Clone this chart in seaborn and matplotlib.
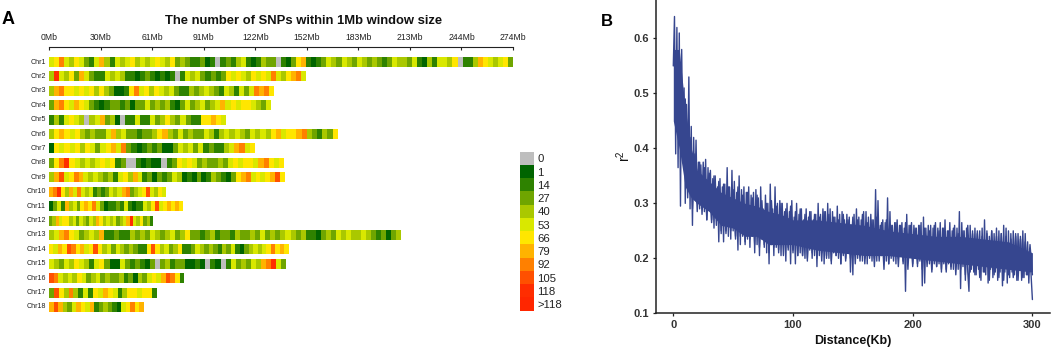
import numpy as np
import pandas as pd
import matplotlib
matplotlib.use("Agg")
import matplotlib.pyplot as plt
from matplotlib.colors import ListedColormap
import seaborn as sns

sns.set_theme(style="white")
plt.rcParams['font.family'] = ['Liberation Sans', 'DejaVu Sans']
plt.rcParams['mathtext.fontset'] = 'custom'
plt.rcParams['mathtext.rm'] = 'Liberation Sans'
plt.rcParams['mathtext.it'] = 'Liberation Sans'

W, H = 1052, 348

chr_names = ["Chr%d" % i for i in range(1, 19)]
chr_lengths = [274, 152, 133, 131, 104.5, 170.5, 121.6, 138.8, 139.4, 69, 79, 61.6, 208, 141.5, 140, 80, 63.6, 56]

# density class per ~3 Mb bin (index into legend_labels)
chr1 = [5,6,8,5,4,6,5,3,2,5,7,4,2,5,4,5,6,4,5,4,5,6,5,4,6,3,4,3,2,2,3,1,2,0,2,3,2,4,5,2,1,2,4,3,3,0,2,1,3,6,7,2,1,2,3,5,4,3,5,4,3,5,4,3,4,3,2,3,5,4,4,3,5,2,1,4,2,5,5,4,6,0,2,2,4,7,6,5,4,5,6,3]
chr2 = [4,10,5,4,6,3,7,5,3,2,2,5,4,5,4,2,2,1,2,3,2,1,2,1,2,0,2,5,4,5,3,2,3,2,3,6,5,6,5,4,6,5,6,5,8,5,4,6,7,8,5]
chr3 = [4,7,8,6,6,5,6,5,6,4,6,4,3,1,1,2,6,8,5,6,4,6,5,4,5,3,2,2,4,3,4,5,4,3,2,5,4,2,5,3,5,8,7,8,6]
chr4 = [3,7,8,6,5,7,6,5,3,2,1,2,3,3,2,3,1,3,3,5,3,4,3,4,2,1,3,5,3,4,5,3,4,5,7,5,6,5,6,6,5,4,3,5]
chr5 = [2,4,2,5,6,5,4,0,4,5,7,3,4,1,0,2,2,5,2,2,5,3,4,6,4,3,5,3,2,2,6,6,7,6,5]
chr6 = [4,6,7,6,5,6,4,3,4,3,3,5,7,4,5,3,3,2,3,3,4,6,7,4,3,5,3,4,3,3,5,4,2,4,5,4,5,4,3,5,4,5,4,6,7,5,6,6,7,8,4,3,2,4,3,6]
chr7 = [1,6,5,6,5,6,4,6,5,3,5,6,7,5,8,3,2,1,2,3,2,3,1,1,3,5,4,5,3,5,2,3,2,2,4,5,7,8,5,6]
chr8 = [3,6,8,10,6,5,4,5,4,5,6,5,6,2,3,0,0,2,1,2,1,1,0,2,3,6,5,6,5,3,4,3,3,4,3,5,6,5,6,6,5,7,8,6,5,6]
chr9 = [4,7,9,5,6,8,7,5,4,5,4,3,4,2,5,6,4,7,5,2,3,1,3,2,3,5,4,1,2,1,3,1,2,4,3,2,1,3,6,7,8,5,6,5,6,7,9,6]
chr10 = [7,8,10,6,4,7,5,8,5,4,5,2,3,2,3,5,4,5,7,8,3,4,5,6,9,5,4,6,5]
chr11 = [1,3,5,2,7,4,5,3,6,7,6,8,5,3,1,2,2,3,2,5,2,1,2,2,5,4,6,9,5,6,7,6,7,6]
chr12 = [3,4,7,5,6,6,4,5,3,5,4,3,5,4,7,6,4,5,4,5,3,4,5,7,10,5,4,6,3,4,2]
chr13 = [4,5,7,8,6,5,3,4,5,4,7,2,2,3,2,2,4,3,4,3,5,4,3,4,5,3,4,6,3,3,2,3,4,2,3,3,2,4,3,3,4,3,5,3,4,3,4,5,4,3,4,2,2,1,3,4,3,5,4,5,4,4,5,4,3,2,3,1,3,4]
chr14 = [6,5,7,6,9,8,6,7,5,6,9,6,4,5,3,5,4,3,4,3,2,2,6,9,6,4,5,3,4,6,2,2,3,5,4,3,4,3,2,4,3,5,2,1,3,4,5,4,5,6,8,6,7,6]
chr15 = [5,4,3,5,4,6,5,4,2,5,6,3,1,1,5,3,2,3,2,1,3,0,3,4,2,3,3,1,1,2,1,0,2,1,0,2,5,3,4,3,5,4,7,8,10,5,3]
chr16 = [9,8,5,4,5,4,6,5,3,4,5,3,4,3,3,4,2,3,1,4,3,5,6,5,7,9,8,6,2]
chr17 = [3,9,6,4,8,4,2,5,2,6,5,7,6,5,2,4,6,6,5,6,6,2]
chr18 = [7,9,7,4,3,5,7,6,5,7,2,3,4,3,2,1,5,6,8,6,7]
chr_values = [chr1, chr2, chr3, chr4, chr5, chr6, chr7, chr8, chr9, chr10,
              chr11, chr12, chr13, chr14, chr15, chr16, chr17, chr18]

legend_labels = ["0", "1", "14", "27", "40", "53", "66", "79", "92", "105", "118", ">118"]
legend_colors = ["#BEBEBE", "#006400", "#2E8200", "#6FA500", "#AAC800", "#D9E800",
                 "#FFE600", "#FFB300", "#FF8000", "#FF5000", "#FF2D00", "#FF2600"]
ruler_ticks = [0, 30.44, 60.89, 91.33, 121.78, 152.22, 182.67, 213.11, 243.56, 274]
ruler_labels = ["0Mb", "30Mb", "61Mb", "91Mb", "122Mb", "152Mb", "183Mb", "213Mb", "244Mb", "274Mb"]

# LD decay: r2 per 1 kb distance
r2_values = [
 .55,.64,.39,.62,.365,.61,.295,.58,.40,.51,
 .30,.48,.36,.53,.29,.44,.26,.42,.31,.415,
 .30,.375,.29,.37,.30,.375,.285,.38,.27,.365,
 .29,.36,.27,.345,.255,.35,.28,.33,.23,.345,
 .245,.33,.23,.335,.25,.365,.24,.33,.235,.36,
 .25,.34,.24,.32,.215,.35,.225,.325,.24,.33,
 .225,.32,.235,.33,.22,.315,.24,.32,.21,.325,
 .225,.31,.205,.33,.235,.29,.22,.315,.21,.30,
 .19,.335,.225,.29,.205,.33,.22,.30,.21,.305,
 .205,.30,.225,.285,.195,.30,.22,.285,.19,.305,
 .215,.275,.19,.30,.205,.28,.21,.29,.205,.27,
 .20,.29,.195,.275,.215,.285,.20,.27,.205,.28,
 .185,.30,.205,.28,.21,.29,.19,.285,.205,.30,
 .20,.29,.19,.285,.21,.275,.205,.295,.20,.28,
 .19,.285,.205,.27,.20,.28,.215,.275,.175,.26,
 .17,.28,.205,.29,.20,.275,.205,.27,.195,.285,
 .20,.285,.19,.275,.205,.28,.195,.27,.20,.325,
 .195,.305,.21,.26,.205,.27,.20,.265,.195,.31,
 .19,.285,.20,.26,.205,.265,.19,.27,.20,.26,
 .21,.265,.195,.255,.14,.28,.195,.26,.205,.265,
 .19,.26,.20,.255,.185,.26,.195,.265,.15,.275,
 .155,.255,.195,.26,.19,.26,.18,.255,.19,.265,
 .185,.255,.19,.265,.175,.255,.19,.27,.18,.25,
 .19,.265,.185,.25,.18,.26,.19,.255,.18,.285,
 .145,.265,.185,.25,.16,.255,.175,.14,.26,.18,
 .25,.175,.255,.17,.245,.18,.25,.16,.255,.175,
 .27,.17,.25,.155,.24,.18,.25,.165,.245,.175,
 .255,.16,.25,.175,.245,.15,.26,.175,.255,.155,
 .25,.165,.245,.175,.25,.17,.24,.16,.245,.18,
 .235,.16,.25,.165,.245,.17,.23,.155,.21,.165,
 .125]
r2_distance = np.arange(len(r2_values))

# further readings from the dense band, every 2 kb from 10 kb on
r2_dense = [
 .49,.31,.42,.29,.39,.285,.375,.28,.365,.27,.355,.265,.35,.26,.34,.25,.335,.245,.33,.25,
 .325,.235,.33,.24,.315,.23,.32,.235,.31,.225,.315,.22,.305,.225,.30,.21,.305,.22,.295,.215,.30,.205,.29,.215,.295,
 .21,.285,.205,.29,.205,.28,.20,.285,.21,.28,.20,.275,.195,.285,.20,.28,.195,.275,.205,.27,.19,.28,.195,.27,.20,
 .275,.19,.27,.195,.28,.19,.265,.20,.27,.185,.275,.195,.265,.18,.27,.19,.26,.195,.265,.185,.26,.19,.265,.18,.26,
 .185,.255,.19,.26,.18,.255,.185,.25,.175,.26,.185,.25,.18,.255,.175,.25,.18,.255,.17,.245,.18,.25,.17,.26,.175,
 .245,.17,.25,.165,.24,.175,.245,.16,.25,.17,.24,.165,.245,.16,.24,.17,.235,.165,.245,.16,.24,.165,.23,.17,.225,.17]
r2_dense_distance = 10 + 2 * np.arange(len(r2_dense))

# solid core of the dense LD band, read at selected distances
core_kb = [0, 5, 10, 15, 20, 30, 40, 50, 60, 70, 80, 90, 100, 120, 140, 160, 180, 200, 220, 240, 260, 280, 300]
core_low = [.45, .40, .33, .31, .30, .285, .26, .255, .24, .24, .225, .225, .225, .215, .21, .205, .205, .20, .195, .19, .185, .18, .175]
core_high = [.58, .58, .47, .40, .36, .34, .32, .31, .30, .295, .285, .28, .27, .27, .265, .26, .25, .245, .24, .24, .235, .23, .21]


def px_axes(x0, y0, x1, y1, **kw):
    return fig.add_axes([x0 / W, 1 - y1 / H, (x1 - x0) / W, (y1 - y0) / H], **kw)


fig = plt.figure(figsize=(W / 100, H / 100), dpi=100, facecolor="white")

cmap = ListedColormap(legend_colors)
X0, X1 = 49.0, 513.0
px_per_mb = (X1 - X0) / 274.0
ROW0, ROW_STEP, ROW_H = 57.0, 14.41, 10.0

# ruler
ax_r = px_axes(X0, 47, X1, 48)
ax_r.set_xlim(0, 274)
ax_r.set_yticks([])
for s in ["left", "right", "bottom"]:
    ax_r.spines[s].set_visible(False)
ax_r.spines["top"].set_linewidth(0.8)
ax_r.spines["top"].set_color("#222222")
ax_r.patch.set_alpha(0)
ax_r.xaxis.tick_top()
ax_r.set_xticks(ruler_ticks)
ax_r.set_xticklabels(ruler_labels, fontsize=6.2, color="#222222")
ax_r.tick_params(axis="x", direction="in", length=2.5, width=0.8, color="#222222", pad=3.5)

# chromosome strips
for i, (name, length, vals) in enumerate(zip(chr_names, chr_lengths, chr_values)):
    y0 = ROW0 + i * ROW_STEP
    ax = px_axes(X0, y0, X0 + length * px_per_mb, y0 + ROW_H)
    sns.heatmap(np.array([vals]), ax=ax, cmap=cmap, vmin=-0.5, vmax=11.5, cbar=False,
                xticklabels=False, yticklabels=[name], rasterized=True)
    ax.tick_params(axis="y", length=0, pad=2.2, labelsize=5.1, labelcolor="#222222", labelrotation=0)

# legend strip
ax_l = px_axes(520, 151.7, 534.3, 310.7)
sns.heatmap(np.arange(12).reshape(-1, 1), ax=ax_l, cmap=cmap, vmin=-0.5, vmax=11.5, cbar=False,
            xticklabels=False, yticklabels=legend_labels)
ax_l.yaxis.tick_right()
ax_l.tick_params(axis="y", length=0, pad=2.2, labelsize=8.2, labelcolor="#222222", labelrotation=0)

fig.text(304 / W, 1 - 21 / H, "The number of SNPs within 1Mb window size", ha="center", va="center",
         fontsize=9.4, fontweight="bold", color="#111111")
fig.text(2 / W, 1 - 20 / H, "A", ha="left", va="center", fontsize=13, fontweight="bold", color="black")
fig.text(601 / W, 1 - 21 / H, "B", ha="left", va="center", fontsize=12, fontweight="bold", color="black")

# LD panel
BLUE = "#36468F"
ax_b = px_axes(655.7, 0, 1050, 313.3)
df = pd.DataFrame({"distance": r2_distance, "r2": r2_values})
df2 = pd.DataFrame({"distance": r2_dense_distance, "r2": r2_dense})
ax_b.fill_between(core_kb, core_low, core_high, color=BLUE, linewidth=0)
sns.lineplot(data=df2, x="distance", y="r2", ax=ax_b, color=BLUE, linewidth=1.0, estimator=None)
sns.lineplot(data=df, x="distance", y="r2", ax=ax_b, color=BLUE, linewidth=1.0, estimator=None)
ax_b.set_xlim(-14.7, 314.7)
ax_b.set_ylim(0.1, 0.67)
ax_b.set_xticks([0, 100, 200, 300])
ax_b.set_yticks([0.1, 0.2, 0.3, 0.4, 0.5, 0.6])
for s in ["top", "right"]:
    ax_b.spines[s].set_visible(False)
for s in ["left", "bottom"]:
    ax_b.spines[s].set_linewidth(1.1)
    ax_b.spines[s].set_color("#222222")
ax_b.patch.set_alpha(0)
ax_b.tick_params(axis="both", length=2.2, width=0.9, color="#222222", pad=2.5,
                 labelsize=8, labelcolor="#333333", left=True, bottom=True)
for t in ax_b.get_xticklabels() + ax_b.get_yticklabels():
    t.set_fontweight("bold")
ax_b.set_xlabel("Distance(Kb)", fontsize=9, fontweight="bold", color="#111111", labelpad=3.5)
ax_b.set_ylabel("r$^2$", fontsize=10, color="#111111", labelpad=0.5)

fig.savefig("out.png", dpi=100, facecolor="white")
